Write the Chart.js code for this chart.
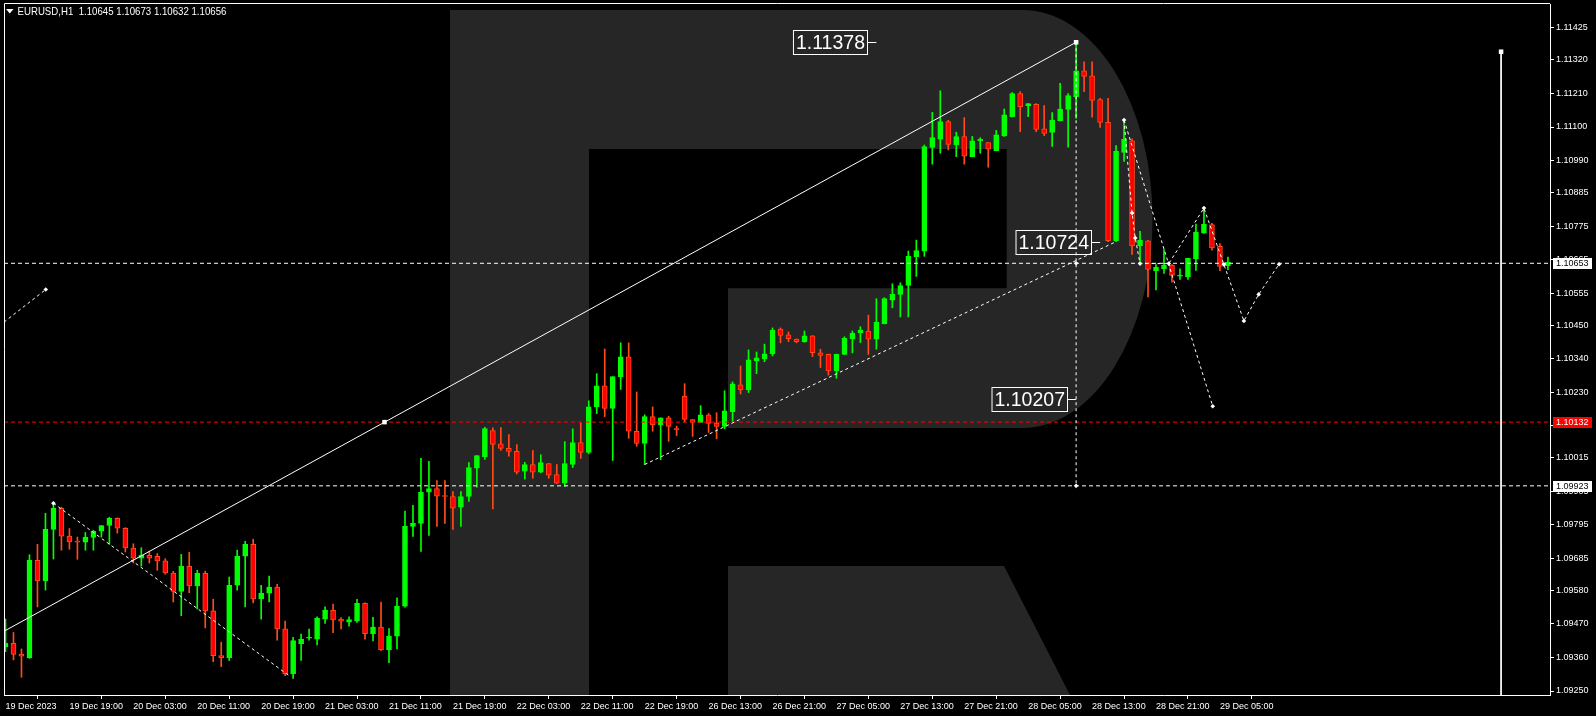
<!DOCTYPE html>
<html><head><meta charset="utf-8">
<style>html,body{margin:0;padding:0;background:#000;overflow:hidden}canvas{display:block}</style>
<script src="https://cdn.jsdelivr.net/npm/chart.js@4.4.1/dist/chart.umd.min.js"></script>
</head><body>
<canvas id="c" width="1596" height="716"></canvas>
<script>
// ---------- DATA ----------
const symbolTitle = 'EURUSD,H1  1.10645 1.10673 1.10632 1.10656';
const timeLabels = ['19 Dec 2023','19 Dec 19:00','20 Dec 03:00','20 Dec 11:00','20 Dec 19:00','21 Dec 03:00','21 Dec 11:00','21 Dec 19:00','22 Dec 03:00','22 Dec 11:00','22 Dec 19:00','26 Dec 13:00','26 Dec 21:00','27 Dec 05:00','27 Dec 13:00','27 Dec 21:00','28 Dec 05:00','28 Dec 13:00','28 Dec 21:00','29 Dec 05:00'];
const timeTickBars = [0,8,16,24,32,40,48,56,64,72,80,88,96,104,112,120,128,136,144,152];
const priceTicks = [1.11425,1.11320,1.11210,1.11100,1.10990,1.10885,1.10775,1.10665,1.10555,1.10450,1.10340,1.10230,1.10120,1.10015,1.09905,1.09795,1.09685,1.09580,1.09470,1.09360,1.09250];

const opens = [
1.09395,1.09406,1.09371,1.09359,1.09679,1.09611,1.09780,1.09849,1.09758,1.09739,
1.09738,1.09754,1.09774,1.09793,1.09816,1.09784,1.09719,1.09686,1.09695,1.09692,
1.09677,1.09637,1.09577,1.09659,1.09595,1.09636,1.09513,1.09366,1.09359,1.09597,
1.09692,1.09731,1.09552,1.09571,1.09591,1.09454,1.09307,1.09405,1.09423,1.09420,
1.09486,1.09515,1.09486,1.09476,1.09479,1.09538,1.09438,1.09460,1.09385,1.09430,
1.09528,1.09790,1.09800,1.09902,1.09914,1.09889,1.09888,1.09853,1.09888,1.09981,
1.10019,1.10104,1.10061,1.10046,1.10036,1.09971,1.09993,1.09968,1.09996,1.09960,
1.09932,1.09993,1.10065,1.10033,1.10182,1.10251,1.10177,1.10281,1.10346,1.10102,
1.10062,1.10150,1.10123,1.10146,1.10111,1.10217,1.10140,1.10131,1.10156,1.10129,
1.10118,1.10166,1.10254,1.10238,1.10333,1.10339,1.10356,1.10437,1.10418,1.10404,
1.10395,1.10415,1.10359,1.10354,1.10300,1.10354,1.10406,1.10425,1.10431,1.10404,
1.10455,1.10532,1.10551,1.10580,1.10675,1.10693,1.11033,1.11060,1.11118,1.11041,
1.11069,1.11003,1.11055,1.11049,1.11022,1.11071,1.11134,1.11210,1.11169,1.11174,
1.11094,1.11082,1.11121,1.11158,1.11199,1.11284,1.11268,1.11190,1.11115,1.10727,
1.11017,1.11055,1.10710,1.10727,1.10629,1.10635,1.10647,1.10611,1.10608,1.10667,
1.10752,1.10780,1.10709,1.10645];
const highs = [
1.09486,1.09442,1.09388,1.09697,1.09731,1.09833,1.09866,1.09853,1.09783,1.09755,
1.09770,1.09777,1.09793,1.09820,1.09818,1.09786,1.09733,1.09720,1.09708,1.09701,
1.09684,1.09643,1.09698,1.09705,1.09646,1.09643,1.09551,1.09410,1.09624,1.09712,
1.09741,1.09748,1.09597,1.09627,1.09600,1.09479,1.09426,1.09437,1.09453,1.09493,
1.09526,1.09535,1.09491,1.09493,1.09551,1.09539,1.09492,1.09542,1.09455,1.09556,
1.09840,1.09859,1.10013,1.10003,1.09940,1.09940,1.09904,1.09904,1.09999,1.10022,
1.10115,1.10113,1.10114,1.10091,1.10058,1.10000,1.10039,1.10025,1.09996,1.09993,
1.10068,1.10110,1.10129,1.10202,1.10291,1.10372,1.10281,1.10392,1.10392,1.10231,
1.10156,1.10182,1.10146,1.10151,1.10119,1.10258,1.10140,1.10186,1.10160,1.10163,
1.10235,1.10264,1.10316,1.10369,1.10362,1.10388,1.10441,1.10441,1.10428,1.10405,
1.10431,1.10416,1.10371,1.10355,1.10355,1.10412,1.10431,1.10445,1.10483,1.10537,
1.10540,1.10586,1.10589,1.10693,1.10729,1.11041,1.11148,1.11219,1.11122,1.11083,
1.11131,1.11069,1.11065,1.11049,1.11089,1.11159,1.11213,1.11216,1.11177,1.11177,
1.11170,1.11147,1.11243,1.11210,1.11378,1.11314,1.11314,1.11194,1.11194,1.11039,
1.11120,1.11061,1.10758,1.10728,1.10649,1.10698,1.10649,1.10635,1.10669,1.10782,
1.10830,1.10784,1.10718,1.10673];
const lows = [
1.09379,1.09352,1.09295,1.09357,1.09526,1.09581,1.09683,1.09712,1.09715,1.09682,
1.09712,1.09712,1.09755,1.09731,1.09768,1.09706,1.09670,1.09660,1.09670,1.09646,
1.09633,1.09542,1.09497,1.09572,1.09519,1.09457,1.09346,1.09330,1.09350,1.09581,
1.09526,1.09539,1.09486,1.09542,1.09417,1.09300,1.09291,1.09350,1.09417,1.09401,
1.09472,1.09441,1.09454,1.09463,1.09475,1.09420,1.09414,1.09383,1.09343,1.09388,
1.09525,1.09757,1.09708,1.09760,1.09790,1.09800,1.09780,1.09790,1.09872,1.09919,
1.10010,1.09847,1.10039,1.10020,1.09962,1.09945,1.09948,1.09966,1.09948,1.09930,
1.09921,1.09983,1.10013,1.10028,1.10160,1.10150,1.10006,1.10239,1.10079,1.10053,
1.09993,1.10102,1.10009,1.10069,1.10088,1.10132,1.10085,1.10130,1.10098,1.10077,
1.10110,1.10134,1.10224,1.10229,1.10291,1.10330,1.10349,1.10392,1.10396,1.10392,
1.10394,1.10347,1.10311,1.10286,1.10276,1.10353,1.10359,1.10393,1.10354,1.10371,
1.10454,1.10507,1.10477,1.10477,1.10610,1.10676,1.10978,1.11014,1.11025,1.11003,
1.10978,1.11002,1.11014,1.10968,1.11022,1.11069,1.11133,1.11085,1.11134,1.11085,
1.11072,1.11036,1.11120,1.11034,1.11128,1.11216,1.11132,1.11099,1.10724,1.10724,
1.10987,1.10682,1.10660,1.10543,1.10566,1.10620,1.10591,1.10600,1.10600,1.10630,
1.10752,1.10696,1.10629,1.10632];
const closes = [
1.09406,1.09370,1.09364,1.09679,1.09611,1.09780,1.09849,1.09758,1.09739,1.09738,
1.09754,1.09774,1.09793,1.09816,1.09784,1.09719,1.09686,1.09695,1.09686,1.09677,
1.09637,1.09577,1.09659,1.09595,1.09636,1.09513,1.09366,1.09359,1.09597,1.09692,
1.09731,1.09552,1.09571,1.09591,1.09454,1.09307,1.09415,1.09420,1.09424,1.09488,
1.09515,1.09483,1.09479,1.09484,1.09538,1.09438,1.09460,1.09385,1.09430,1.09528,
1.09790,1.09800,1.09902,1.09914,1.09889,1.09888,1.09850,1.09888,1.09983,1.10022,
1.10111,1.10059,1.10046,1.10036,1.09968,1.09993,1.09968,1.09999,1.09958,1.09932,
1.09996,1.10065,1.10033,1.10182,1.10251,1.10177,1.10281,1.10346,1.10102,1.10062,
1.10150,1.10123,1.10146,1.10118,1.10106,1.10141,1.10131,1.10156,1.10128,1.10118,
1.10169,1.10258,1.10238,1.10336,1.10343,1.10356,1.10434,1.10416,1.10406,1.10396,
1.10415,1.10360,1.10351,1.10300,1.10354,1.10408,1.10424,1.10434,1.10404,1.10460,
1.10537,1.10551,1.10580,1.10676,1.10695,1.11036,1.11065,1.11118,1.11043,1.11069,
1.11004,1.11055,1.11060,1.11027,1.11074,1.11140,1.11210,1.11167,1.11177,1.11092,
1.11079,1.11123,1.11159,1.11203,1.11284,1.11266,1.11187,1.11115,1.10727,1.11020,
1.11060,1.10710,1.10728,1.10633,1.10640,1.10647,1.10613,1.10612,1.10669,1.10755,
1.10782,1.10703,1.10643,1.10656];

// drawing objects (bar index, price)
const trendSolid = [[-0.1875,1.09446],[134,1.11378]];
const trendMarks = [[47.44,1.10132],[134,1.11378]];
const dashDown = [[6,1.09866],[35.5,1.09300]];
const dashUp = [[80,1.09993],[139,1.10724]];
const vDash = [[134,1.11378],[134,1.09923]];
const vSolid = [[187.19,1.11347],[187.19,1.09237]];
const leftDash = [[-0.1875,1.10460],[5.04,1.10567]];
const fcLong = [[140,1.11123],[151.1,1.10184]];
const fcZig = [[140,1.11123],[141,1.10818],[141.4,1.10736],[142,1.10652],[145.6,1.10652],[150,1.10834],[152.5,1.10649],[155,1.10464],[156.85,1.10551],[159.4,1.10650]];
const fcMarks = [[140,1.11123],[141,1.10818],[141.4,1.10736],[142,1.10652],[145.6,1.10652],[150,1.10834],[152.5,1.10649],[155,1.10464],[156.85,1.10551],[159.4,1.10650],[151.1,1.10184],[5.04,1.10567],[6,1.09866],[134,1.10653],[134,1.09923]];
const hLevels = [{p:1.10653,c:'#ffffff'},{p:1.10132,c:'#ff0000'},{p:1.09923,c:'#ffffff'}];
const axisTags = [{p:1.10653,bg:'#ffffff',fg:'#000000'},{p:1.10132,bg:'#ff0000',fg:'#ffffff'},{p:1.09923,bg:'#ffffff',fg:'#000000'}];
const boxLabels = [{t:'1.11378',k:109,p:1.11378},{t:'1.10724',k:137,p:1.10724},{t:'1.10207',k:134,p:1.10207}];

// ---------- SETUP ----------
const X_MIN=-0.1875, X_MAX=193.3125, Y_MIN=1.092369, Y_MAX=1.115035;
const SMALL='"Liberation Sans",Arial,sans-serif';
const BULL='#00ff00', BEAR='#ff0000', BEAR_EDGE='#ff4a1a';
const up = closes.map((c,i)=>c>=opens[i]);
const pts = a => a.map(p=>({x:p[0],y:p[1]}));
const wickData = opens.map((o,i)=>({x:i,y:[lows[i],highs[i]]}));
const bodyData = opens.map((o,i)=>({x:i,y:[Math.min(o,closes[i]),Math.max(o,closes[i])]}));
const lineDs = (data,color,dash,order)=>({type:'line',data:pts(data),borderColor:color,borderWidth:1,borderDash:dash||[],pointRadius:0,tension:0,fill:false,order:order||1});

const datasets = [
  {type:'bar',data:wickData,backgroundColor:up.map(u=>u?BULL:BEAR_EDGE),borderWidth:0,grouped:false,barPercentage:1,categoryPercentage:1,maxBarThickness:1,order:20},
  {type:'bar',data:bodyData,backgroundColor:up.map(u=>u?BULL:BEAR),borderColor:up.map(u=>u?BULL:BEAR_EDGE),borderWidth:1,borderSkipped:false,grouped:false,barPercentage:1,categoryPercentage:1,maxBarThickness:5,minBarLength:1,order:19},
  ...hLevels.map(h=>lineDs([[X_MIN,h.p],[X_MAX,h.p]],h.c,[4,3],5)),
  lineDs(trendSolid,'#ffffff',[],2),
  lineDs(dashDown,'#ffffff',[3,3],2),
  lineDs(dashUp,'#ffffff',[3,3],2),
  lineDs(vDash,'#ffffff',[3,3],2),
  lineDs(vSolid,'#ffffff',[],2),
  lineDs(leftDash,'#ffffff',[3,3],2),
  lineDs(fcLong,'#ffffff',[3,3],2),
  lineDs(fcZig,'#ffffff',[3,3],2),
  {type:'line',data:pts(trendMarks.concat([vSolid[0]])),showLine:false,pointStyle:'rect',pointRadius:3.2,pointBackgroundColor:'#fff',pointBorderWidth:0,order:1},
  {type:'line',data:pts(fcMarks),showLine:false,pointStyle:'rectRot',pointRadius:2.3,pointBackgroundColor:'#fff',pointBorderWidth:0,order:1}
];

const bgPlugin = {id:'bg',beforeDraw(chart){
  const ctx=chart.ctx; ctx.save();
  ctx.fillStyle='#000'; ctx.fillRect(0,0,chart.width,chart.height);
  ctx.fillStyle='#262626';
  ctx.beginPath();
  ctx.moveTo(450,10); ctx.lineTo(1022.6,10);
  ctx.ellipse(1022.6,219,130,209,0,-Math.PI/2,Math.PI/2,false);
  ctx.lineTo(728,428); ctx.lineTo(728,288.3); ctx.lineTo(1006.7,288.3); ctx.lineTo(1006.7,149);
  ctx.lineTo(589,149); ctx.lineTo(589,695); ctx.lineTo(450,695); ctx.closePath(); ctx.fill();
  ctx.beginPath(); ctx.moveTo(728,566); ctx.lineTo(1004,566); ctx.lineTo(1070,695); ctx.lineTo(728,695); ctx.closePath(); ctx.fill();
  ctx.restore();
}};

const overlayPlugin = {id:'overlay',afterDraw(chart){
  const ctx=chart.ctx, ca=chart.chartArea, xs=chart.scales.x, ys=chart.scales.y;
  ctx.save();
  // frame top/left
  ctx.strokeStyle='#fff'; ctx.lineWidth=1;
  ctx.beginPath(); ctx.moveTo(ca.left+0.5,ca.bottom); ctx.lineTo(ca.left+0.5,ca.top-0.5); ctx.lineTo(ca.right,ca.top-0.5); ctx.stroke();
  // title
  ctx.fillStyle='#fff';
  ctx.beginPath(); ctx.moveTo(6,9); ctx.lineTo(13.5,9); ctx.lineTo(9.75,13.5); ctx.closePath(); ctx.fill();
  ctx.save();
  ctx.font='11.5px '+SMALL; ctx.textBaseline='alphabetic'; ctx.textAlign='left';
  ctx.scale(0.84,1);
  ctx.fillText(symbolTitle,17.5/0.84,15);
  ctx.restore();
  // box labels
  ctx.font='19.5px "Liberation Sans",Arial,sans-serif'; ctx.textBaseline='middle'; ctx.textAlign='left';
  boxLabels.forEach(b=>{
    const px=xs.getPixelForValue(b.k), py=Math.round(ys.getPixelForValue(b.p))+0.5;
    const w=ctx.measureText(b.t).width+5, right=Math.round(px-9.5)+0.5;
    ctx.strokeStyle='#fff'; ctx.lineWidth=1;
    ctx.strokeRect(right-w,py-12,w,24);
    ctx.beginPath(); ctx.moveTo(right,py); ctx.lineTo(px,py); ctx.stroke();
    ctx.fillStyle='#fff'; ctx.fillText(b.t,right-w+2.5,py+1);
  });
  // axis tags
  ctx.font='9px '+SMALL; ctx.textBaseline='middle';
  axisTags.forEach(t=>{
    const py=ys.getPixelForValue(t.p);
    ctx.fillStyle=t.bg; ctx.fillRect(ca.right+3,Math.round(py)-5,39,11);
    ctx.fillStyle=t.fg; ctx.fillText(t.p.toFixed(5),ca.right+6,Math.round(py)+0.5);
  });
  ctx.restore();
}};

Chart.defaults.font.family=SMALL;
new Chart(document.getElementById('c'),{
  type:'bar',
  data:{datasets},
  plugins:[bgPlugin,overlayPlugin],
  options:{
    responsive:false,animation:false,devicePixelRatio:1,events:[],
    layout:{padding:{left:2,top:2,right:0,bottom:0}},
    plugins:{legend:{display:false},tooltip:{enabled:false},title:{display:false}},
    scales:{
      x:{type:'linear',min:X_MIN,max:X_MAX,offset:false,
        afterBuildTicks:s=>{s.ticks=timeTickBars.map(v=>({value:v}));},
        afterFit:s=>{s.height=21;s.paddingLeft=0;s.paddingRight=0;},
        ticks:{autoSkip:false,maxRotation:0,minRotation:0,align:'start',color:'#fff',padding:2,font:{size:9,family:SMALL},
          callback:v=>timeLabels[timeTickBars.indexOf(v)]},
        grid:{drawOnChartArea:false,color:'#fff',tickLength:4,tickWidth:1},
        border:{display:true,color:'#fff',width:1}},
      y:{type:'linear',position:'right',min:Y_MIN,max:Y_MAX,
        afterBuildTicks:s=>{s.ticks=priceTicks.map(v=>({value:v}));},
        afterFit:s=>{s.width=46;s.paddingTop=0;s.paddingBottom=0;},
        ticks:{autoSkip:false,color:'#fff',padding:2,font:{size:9,family:SMALL},callback:v=>Number(v).toFixed(5)},
        grid:{drawOnChartArea:false,color:'#fff',tickLength:4,tickWidth:1},
        border:{display:true,color:'#fff',width:1}}
    }
  }
});
</script>
</body></html>
